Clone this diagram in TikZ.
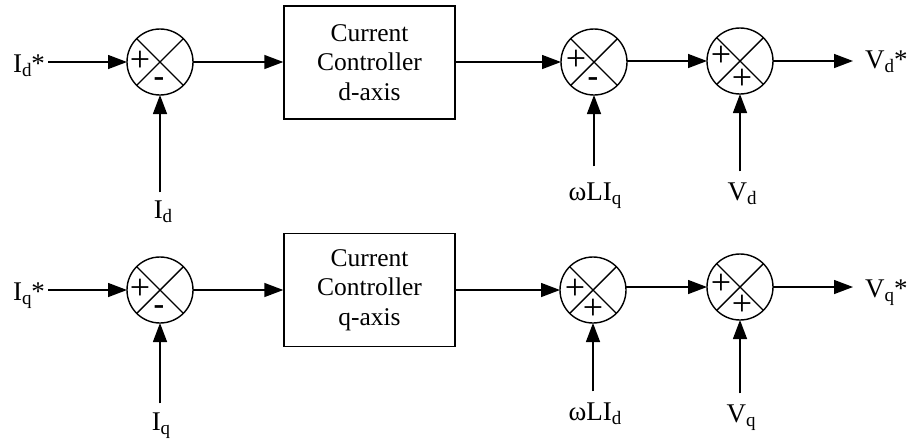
\documentclass[tikz,border=0pt]{standalone}
\usepackage{fontspec}
\setmainfont{Liberation Serif}
\usetikzlibrary{arrows.meta}
\newcommand\sbs[1]{\raisebox{-4pt}{\fontsize{19}{19}\selectfont #1}}
\begin{document}
\begin{tikzpicture}[x=1pt,y=-1pt,
  sumj/.style={circle, draw, line width=1.4pt, minimum size=66pt, inner sep=0pt, outer sep=0pt,
    path picture={\draw[line width=1.4pt] (path picture bounding box.north west) -- (path picture bounding box.south east)
      (path picture bounding box.south west) -- (path picture bounding box.north east);}},
  ctrl/.style={draw, line width=1.4pt, minimum width=171pt, minimum height=113pt, align=center,
    font=\fontsize{25.5}{29.5}\selectfont, inner sep=0pt},
  lbl/.style={inner sep=0pt, outer sep=0pt, font=\fontsize{27}{27}\selectfont},
  sgn/.style={inner sep=0pt, font=\fontsize{36}{36}\selectfont},
  mns/.style={inner sep=0pt, font=\fontsize{32}{32}\selectfont\bfseries},
  arr/.style={-{Triangle[length=19pt,width=14pt]}, line width=1.4pt},
]
\useasboundingbox (0,0) rectangle (907,440);

% ---------- d-axis row ----------
\node[sumj] (a1) at (160,62) {};
\node[ctrl] (ca) at (369.5,62.5) {Current\\Controller\\d-axis};
\node[sumj] (a2) at (594,62) {};
\node[sumj] (a3) at (740,61) {};

\node[sgn] at ([shift={(-20,-1)}]a1.center) {+};
\node[mns] at ([shift={(-1,20)}]a1.center) {-};
\node[sgn] at ([shift={(-18,-2)}]a2.center) {+};
\node[mns] at ([shift={(-1,20)}]a2.center) {-};
\node[sgn] at ([shift={(-19,-5)}]a3.center) {+};
\node[sgn] at ([shift={(2,18)}]a3.center) {+};

\node[lbl, anchor=base east] (idr) at (45,72) {I\sbs{d}*};
\node[lbl, anchor=base] (idl) at (163,218) {I\sbs{d}};
\node[lbl, anchor=base] (wlq) at (595,200) {ωLI\sbs{q}};
\node[lbl, anchor=base] (vdl) at (742,200) {V\sbs{d}};
\node[lbl, anchor=base west] (vdo) at (865,68) {V\sbs{d}*};

\draw[arr] (a1.west -| idr.east) ++(3,0) -- (a1.west);
\draw[arr] (idl.north -| a1.south) ++(0,-8) -- (a1.south);
\draw[arr] (a1.east) -- (a1.east -| ca.west);
\draw[arr] (ca.east |- a2.west) -- (a2.west);
\draw[arr] (wlq.north -| a2.south) ++(0,-16) -- (a2.south);
\draw[arr] (a3.west -| a2.east) -- (a3.west);
\draw[arr] (vdl.north -| a3.south) ++(0,-11) -- (a3.south);
\draw[arr, shorten >=12pt] (a3.east) -- (a3.east -| vdo.west);

% ---------- q-axis row ----------
\node[sumj] (b1) at (160,290) {};
\node[ctrl] (cb) at (369.5,290) {Current\\Controller\\q-axis};
\node[sumj] (b2) at (593,290) {};
\node[sumj] (b3) at (740,287) {};

\node[sgn] at ([shift={(-20,-1)}]b1.center) {+};
\node[mns] at ([shift={(-1,20)}]b1.center) {-};
\node[sgn] at ([shift={(-18,-1)}]b2.center) {+};
\node[sgn] at ([shift={(0,19)}]b2.center) {+};
\node[sgn] at ([shift={(-19,-3)}]b3.center) {+};
\node[sgn] at ([shift={(2,18)}]b3.center) {+};

\node[lbl, anchor=base east] (iqr) at (45,300) {I\sbs{q}*};
\node[lbl, anchor=base] (iql) at (161,430) {I\sbs{q}};
\node[lbl, anchor=base] (wld) at (595,420) {ωLI\sbs{d}};
\node[lbl, anchor=base] (vql) at (741,422) {V\sbs{q}};
\node[lbl, anchor=base west] (vqo) at (865,297) {V\sbs{q}*};

\draw[arr] (b1.west -| iqr.east) ++(3,0) -- (b1.west);
\draw[arr] (iql.north -| b1.south) ++(0,-9) -- (b1.south);
\draw[arr] (b1.east) -- (b1.east -| cb.west);
\draw[arr] (cb.east |- b2.west) -- (b2.west);
\draw[arr] (wld.north -| b2.south) ++(0,-11) -- (b2.south);
\draw[arr] (b3.west -| b2.east) -- (b3.west);
\draw[arr] (vql.north -| b3.south) ++(0,-11) -- (b3.south);
\draw[arr, shorten >=12pt] (b3.east) -- (b3.east -| vqo.west);
\end{tikzpicture}
\end{document}
